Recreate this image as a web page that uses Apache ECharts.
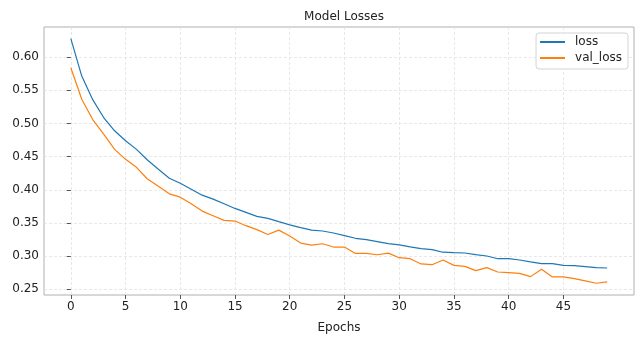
<!DOCTYPE html>
<html>
<head>
<meta charset="utf-8">
<script src="https://cdn.jsdelivr.net/npm/echarts@6/dist/echarts.min.js"></script>
<style>html,body{margin:0;padding:0;background:#fff}#c{width:643px;height:339px}</style>
</head>
<body>
<div id="c"></div>
<script>
const epochs = Array.from({length: 50}, (_, i) => i);
const loss = [0.628,0.5715,0.536,0.509,0.489,0.474,0.461,0.445,0.431,0.4174,0.410,0.401,0.392,0.386,0.379,0.372,0.366,0.360,0.357,0.352,0.3472,0.343,0.3393,0.338,0.335,0.331,0.327,0.325,0.322,0.319,0.317,0.314,0.3113,0.310,0.306,0.3053,0.3048,0.3023,0.3003,0.2962,0.2962,0.2943,0.2913,0.2887,0.2887,0.2862,0.2857,0.2842,0.2827,0.2822];
const valLoss = [0.584,0.5365,0.506,0.484,0.461,0.446,0.434,0.4164,0.4054,0.394,0.389,0.379,0.368,0.361,0.354,0.353,0.346,0.340,0.3328,0.3393,0.3303,0.3198,0.3168,0.3188,0.3138,0.3138,0.3042,0.3042,0.3022,0.3047,0.2977,0.2962,0.2883,0.2872,0.2943,0.2862,0.2847,0.2782,0.2827,0.2762,0.2752,0.2742,0.2692,0.2802,0.2687,0.2687,0.2662,0.2627,0.2592,0.2612];
const xTicks = [0,5,10,15,20,25,30,35,40,45];
const yTicks = [0.25,0.30,0.35,0.40,0.45,0.50,0.55,0.60];

const font = 'DejaVu Sans';
const chart = echarts.init(document.getElementById('c'), null, {renderer: 'canvas'});
chart.setOption({
  animation: false,
  backgroundColor: '#fff',
  title: {text: 'Model Losses', left: 339, textAlign: 'center', top: 6,
    textStyle: {fontFamily: font, fontSize: 12, fontWeight: 'normal', color: '#222'}},
  legend: {
    orient: 'vertical', right: 15, top: 33,
    backgroundColor: '#fff', borderColor: '#d4d4d4', borderWidth: 1, borderRadius: 3,
    padding: [3, 6, 5, 4], itemGap: 4, itemWidth: 25, itemHeight: 2,
    icon: 'rect',
    textStyle: {fontFamily: font, fontSize: 12, color: '#222', padding: [0, 0, 0, 5]},
    data: ['loss', 'val_loss']
  },
  grid: {left: 44, right: 9, top: 27, bottom: 43, show: true, borderColor: '#b0b0b0', borderWidth: 1},
  xAxis: {
    type: 'value', min: -2.45, max: 51.45,
    name: 'Epochs', nameLocation: 'middle', nameGap: 27,
    nameTextStyle: {fontFamily: font, fontSize: 12, color: '#222'},
    axisLine: {show: false},
    axisTick: {show: true, length: 4, customValues: xTicks, lineStyle: {color: '#555'}},
    axisLabel: {customValues: xTicks, fontFamily: font, fontSize: 12, color: '#222', margin: 6},
    splitLine: {show: true, lineStyle: {color: '#e2e2e2', type: [3, 2], width: 0.8}}
  },
  yAxis: {
    type: 'value', min: 0.2415, max: 0.6455,
    axisLine: {show: false},
    axisTick: {show: true, length: 4, customValues: yTicks, lineStyle: {color: '#555'}},
    axisLabel: {customValues: yTicks, fontFamily: font, fontSize: 12, color: '#222', margin: 5,
      formatter: v => v.toFixed(2)},
    splitLine: {show: true, lineStyle: {color: '#e2e2e2', type: [3, 2], width: 0.8}}
  },
  series: [
    {name: 'loss', type: 'line', data: epochs.map((e, i) => [e, loss[i]]), showSymbol: false,
      itemStyle: {color: '#1f77b4'}, lineStyle: {color: '#1f77b4', width: 1.2}},
    {name: 'val_loss', type: 'line', data: epochs.map((e, i) => [e, valLoss[i]]), showSymbol: false,
      itemStyle: {color: '#ff7f0e'}, lineStyle: {color: '#ff7f0e', width: 1.2}}
  ]
});
</script>
</body>
</html>
